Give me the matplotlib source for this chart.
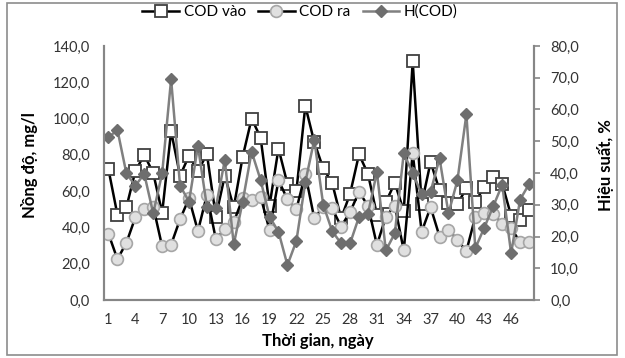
import matplotlib.pyplot as plt
from matplotlib.patches import Rectangle

# ngày 1..48
days = list(range(1, 49))

cod_vao = [72, 47, 51, 71, 80, 70, 48, 93, 68.5, 79.5,
           71, 80.5, 46, 68.5, 51, 79, 100, 89.5, 52, 83.5,
           64, 60, 107, 87, 72.5, 64.5, 45, 58.5, 80.3, 69.5,
           47, 54, 64.5, 49, 131.5, 53, 76, 60.5, 53.3, 53,
           61.5, 54, 62.5, 68, 64, 46.5, 44, 49.5]

cod_ra = [36.5, 22.5, 31.5, 45.5, 50, 51.5, 29.5, 30.5, 44.5, 56,
          38, 58, 33.5, 39, 43, 56, 55, 57, 38.5, 66,
          55.5, 50, 69.5, 45, 51.5, 50.5, 40.5, 48.5, 59.5, 52,
          30.3, 46, 52, 27.3, 81, 37.6, 51.2, 35, 38.8, 33,
          27, 46, 48, 47.5, 42, 39.5, 32, 32]

h_cod = [51.2, 53.6, 39.9, 36, 39.7, 27.3, 39.9, 69.5, 36, 31,
         48.5, 29.4, 29.1, 44.1, 17.5, 31, 46.7, 37.8, 26.2, 21.5,
         11, 18.6, 37.1, 50.5, 30, 21.7, 17.8, 17.8, 26.2, 27.2,
         40.3, 15.6, 21, 46.2, 40, 33.3, 34.1, 44.6, 27.3, 37.7,
         58.5, 16.3, 22.8, 29.5, 36.3, 14.7, 31.6, 36.5]

left_ticks = [0, 20, 40, 60, 80, 100, 120, 140]
right_ticks = [0, 10, 20, 30, 40, 50, 60, 70, 80]
x_ticks = list(range(1, 48, 3))

plt.rcParams['font.family'] = ['Lato', 'Noto Sans', 'DejaVu Sans']

def vn(v):
    return f"{v:.1f}".replace('.', ',')

fig = plt.figure(figsize=(6.25, 3.58), dpi=100)
fig.patches.append(Rectangle((0.011, 0.008), 0.976, 0.985, transform=fig.transFigure,
                             fill=False, edgecolor='#8c8c8c', linewidth=1.2))

ax = fig.add_axes([104/625, 58/358, 429.5/625, 254/358])
ax2 = ax.twinx()

l1, = ax.plot(days, cod_vao, color='black', linewidth=1.8, marker='s', markersize=9,
              markerfacecolor='white', markeredgecolor='#404040', markeredgewidth=1.3,
              label='COD vào', zorder=2)
l2, = ax.plot(days, cod_ra, color='black', linewidth=1.8, marker='o', markersize=8.5,
              markerfacecolor='#e0e0e0', markeredgecolor='#a6a6a6', markeredgewidth=1.2,
              label='COD ra', zorder=3)
l3, = ax2.plot(days, h_cod, color='#808080', linewidth=1.8, marker='D', markersize=6.5,
               markerfacecolor='#6e6e6e', markeredgecolor='#6e6e6e',
               label='H(COD)')

ax.set_xlim(0.5, 48.5)
ax.set_ylim(0, 140)
ax2.set_ylim(0, 80)

ax.set_xticks(x_ticks)
ax.set_xticklabels([str(d) for d in x_ticks])
ax.set_yticks(left_ticks)
ax.set_yticklabels([vn(v) for v in left_ticks])
ax2.set_yticks(right_ticks)
ax2.set_yticklabels([vn(v) for v in right_ticks])

for a in (ax, ax2):
    a.spines['top'].set_visible(False)
    for s in ('left', 'right', 'bottom'):
        a.spines[s].set_color('#868686')
        a.spines[s].set_linewidth(1.5)

ax.tick_params(axis='y', length=0, pad=10, labelsize=10.5, labelcolor='#333333')
ax.tick_params(axis='x', length=0, pad=9, labelsize=10.5, labelcolor='#333333')
ax2.tick_params(axis='y', length=4, direction='out', color='#868686', width=1.2,
                pad=8, labelsize=10.5, labelcolor='#333333')

fig.text(30/625, 1 - 165/358, 'Nồng độ, mg/l', rotation=90, ha='center', va='center',
         fontsize=12, fontweight='bold')
fig.text(605/625, 1 - 165/358, 'Hiệu suất, %', rotation=90, ha='center', va='center',
         fontsize=12, fontweight='bold')
fig.text(318/625, 1 - 341/358, 'Thời gian, ngày', ha='center', va='center',
         fontsize=12, fontweight='bold')

fig.legend(handles=[l1, l2, l3], loc='center', bbox_to_anchor=(300/625, 1 - 12/358),
           ncol=3, frameon=False, fontsize=11, handlelength=2.4, handletextpad=0.3,
           columnspacing=0.8)

fig.savefig('out.png', dpi=100)
